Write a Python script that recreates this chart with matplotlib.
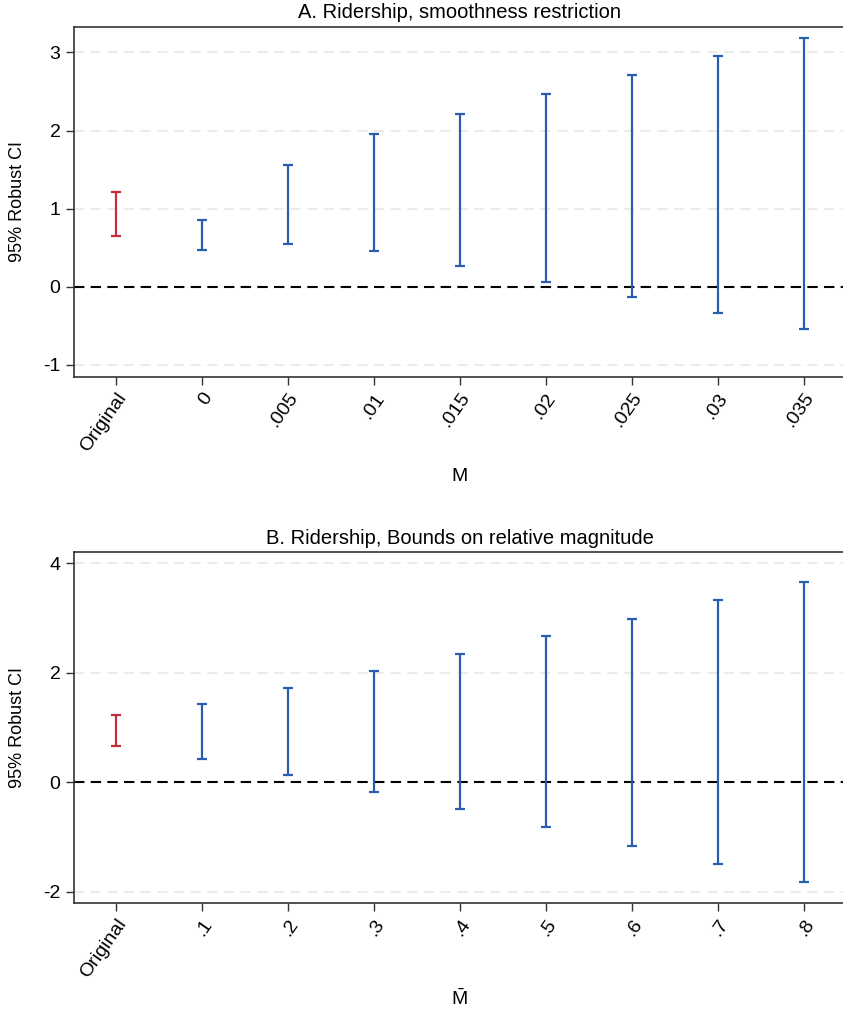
import numpy as np
import matplotlib.pyplot as plt

plt.rcParams['font.family'] = ['Liberation Sans', 'DejaVu Sans']
plt.rcParams['mathtext.fontset'] = 'custom'
plt.rcParams['mathtext.rm'] = 'Liberation Sans'

# panel A: smoothness restriction
labels_a = ['Original', '0', '.005', '.01', '.015', '.02', '.025', '.03', '.035']
lo_a = [0.656, 0.477, 0.550, 0.464, 0.268, 0.068, -0.132, -0.337, -0.545]
hi_a = [1.219, 0.852, 1.555, 1.956, 2.216, 2.467, 2.714, 2.953, 3.187]
yticks_a = [-1, 0, 1, 2, 3]

# panel B: bounds on relative magnitude
labels_b = ['Original', '.1', '.2', '.3', '.4', '.5', '.6', '.7', '.8']
lo_b = [0.664, 0.432, 0.140, -0.177, -0.493, -0.822, -1.157, -1.486, -1.820]
hi_b = [1.224, 1.437, 1.723, 2.027, 2.338, 2.673, 2.989, 3.330, 3.665]
yticks_b = [-2, 0, 2, 4]

red = '#c0303a'
blue = '#2a5cb0'

fig = plt.figure(figsize=(8.43, 10.11), dpi=100)
ax1 = fig.add_axes([0.0874, 0.6274, 0.9158, 0.3462])
ax2 = fig.add_axes([0.0874, 0.1071, 0.9158, 0.3466])


def draw(ax, labels, lo, hi, yticks, ylim, title, xlabel, xlab_y):
    x = np.arange(len(labels))
    lo = np.array(lo)
    hi = np.array(hi)
    mid = (lo + hi) / 2
    for i in x:
        c = red if i == 0 else blue
        ax.errorbar(i, mid[i], yerr=[[mid[i] - lo[i]], [hi[i] - mid[i]]],
                    fmt='none', ecolor=c, elinewidth=1.6, capsize=3.5,
                    capthick=1.6, zorder=3)
    for yt in yticks:
        if yt != 0:
            ax.axhline(yt, color='#e8e8e8', lw=1.2, ls=(0, (6, 4)), zorder=1)
    ax.axhline(0, color='black', lw=1.5, ls=(0, (5, 3)), zorder=2)
    ax.set_xlim(-0.49, len(labels) - 0.51)
    ax.set_ylim(*ylim)
    ax.set_yticks(yticks)
    ax.set_yticklabels([str(v) for v in yticks], fontsize=14)
    ax.set_xticks(x)
    ax.set_xticklabels(labels, rotation=55, ha='right', va='top',
                       rotation_mode='anchor', fontsize=14)
    ax.tick_params(length=6, width=1, color='#333333')
    for s in ['left', 'bottom', 'top', 'right']:
        ax.spines[s].set_color('#333333')
        ax.spines[s].set_linewidth(1.2)
    ax.set_title(title, fontsize=14.5, pad=6)
    ax.set_ylabel('95% Robust CI', fontsize=13, labelpad=12)
    ax.set_xlabel(xlabel, fontsize=14)
    ax.xaxis.set_label_coords(0.5 - 0.0874 / 0.9158 * 0.0, xlab_y)


draw(ax1, labels_a, lo_a, hi_a, yticks_a, (-1.15, 3.33),
     'A. Ridership, smoothness restriction', 'M', -0.262)
draw(ax2, labels_b, lo_b, hi_b, yticks_b, (-2.2, 4.2),
     'B. Ridership, Bounds on relative magnitude', r'$\mathrm{\bar{M}}$', -0.245)

fig.savefig('out.png', dpi=100)
